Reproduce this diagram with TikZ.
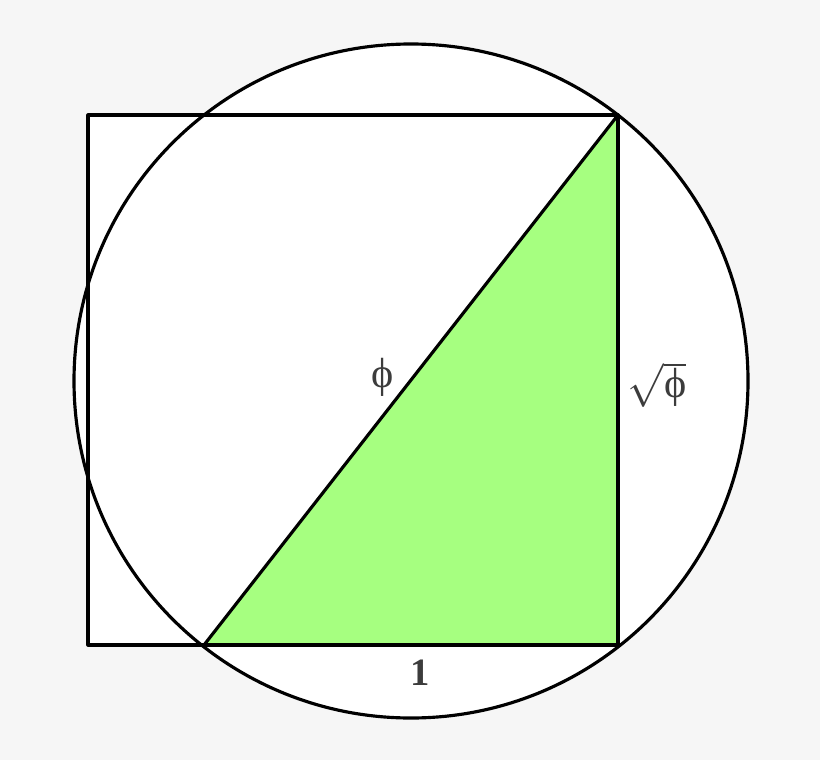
\documentclass[tikz,border=0pt]{standalone}
\usepackage{fontspec}
\setmainfont{Liberation Serif}
\definecolor{bggray}{HTML}{F6F6F6}
\definecolor{leafgreen}{HTML}{A6FF80}
\definecolor{labelgray}{HTML}{3C3C3C}
\tikzset{
  edge/.style={line width=1.8pt, line join=round},
  lbl/.style={text=labelgray, font=\fontsize{24}{28}\selectfont, inner sep=0pt}
}
\begin{document}
\begin{tikzpicture}[x=0.02cm,y=-0.02cm]
    \fill[bggray] (0,0) rectangle (820,760);
    \useasboundingbox (0,0) rectangle (820,760);
    % points
    \coordinate (O) at (411,381);
    \coordinate (A) at (88,115);
    \coordinate (B) at (618,115);
    \coordinate (C) at (618,645);
    \coordinate (D) at (88,645);
    \coordinate (E) at (204,645);
    % white inside
    \fill[white] (O) circle (337);
    \fill[white] (A) rectangle (C);
    \fill[leafgreen] (E) -- (C) -- (B) -- cycle;
    % lines
    \draw[edge] (A) -- (B) -- (C) -- (D) -- cycle;
    \draw[edge] (E) -- (B);
    \draw[edge] (O) circle (337);
    \node[lbl] (phi) at (383,377) {ϕ};
    \node[lbl] (root) at (657,385) {$\sqrt{\mbox{ϕ}}$};
    \node[lbl, font=\fontsize{22}{26}\selectfont\bfseries] (one) at (420,673) {1};
  \end{tikzpicture}
\end{document}
